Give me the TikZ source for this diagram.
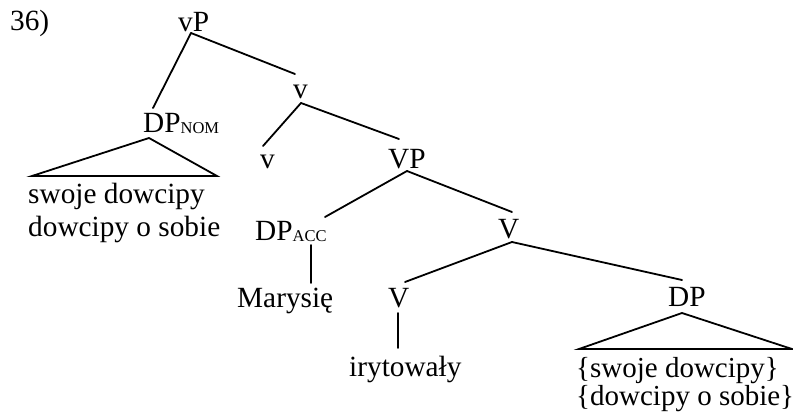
\documentclass[tikz,border=0pt]{standalone}
\usepackage{fontspec}
\setmainfont{Liberation Serif}
\newcommand\subsc[1]{{\fontsize{16.5}{17}\selectfont\raisebox{-1.5pt}{#1}}}
\tikzset{
  lab/.style={inner sep=0pt, anchor=base west, font=\fontsize{29.3}{30}\selectfont},
  branch/.style={line width=1.8pt, line cap=round},
}
\begin{document}
\begin{tikzpicture}[x=1pt,y=-1pt]
\useasboundingbox (0,0) rectangle (793,418);
% labels
\node[lab] (ex)  at (10,30)   {36)};
\node[lab] (vP)  at (178,31)  {vP};
\node[lab] (v1)  at (293,98)  {v};
\node[lab] (DPn) at (143,132) {DP\subsc{NOM}};
\node[lab] (v2)  at (260,168) {v};
\node[lab] (VP)  at (388,168) {VP};
\node[lab] (DPa) at (255,240) {DP\subsc{ACC}};
\node[lab] (V1)  at (498,238) {V};
\node[lab] (Mar) at (237,307) {Marysię};
\node[lab] (V2)  at (388,307) {V};
\node[lab] (DP)  at (668,306) {DP};
\node[lab] (iry) at (349,376) {irytowały};
\node[lab] (s1)  at (28,203)  {swoje dowcipy};
\node[lab] (s2)  at (28,236)  {dowcipy o sobie};
\node[lab, font=\fontsize{29}{30}\selectfont] (r1) at (576,377) {\{swoje dowcipy\}};
\node[lab, font=\fontsize{29}{30}\selectfont] (r2) at (576,405) {\{dowcipy o sobie\}};
% connector ends
\coordinate (vP-b)  at (191,33);
\coordinate (DPn-t) at (153,108);
\coordinate (v1-t)  at (295,74);
\coordinate (v1-b)  at (301,103);
\coordinate (v2-t)  at (263,146);
\coordinate (VP-t)  at (399,139);
\coordinate (VP-b)  at (407,171);
\coordinate (DPa-t) at (325,217);
\coordinate (DPa-b) at (311,245);
\coordinate (Mar-t) at (311,283);
\coordinate (V1-t)  at (512,212);
\coordinate (V1-b)  at (512,242);
\coordinate (V2-t)  at (405,282);
\coordinate (V2-b)  at (398,313);
\coordinate (iry-t) at (398,348);
\coordinate (DP-t)  at (682,280);
\coordinate (DPn-b) at (149,138);
\coordinate (tl1)   at (32,176);
\coordinate (tl2)   at (217,176);
\coordinate (DP-b)  at (682,313);
\coordinate (tr1)   at (579,349);
\coordinate (tr2)   at (792,349);
% branches
\draw[branch] (vP-b) -- (DPn-t);
\draw[branch] (vP-b) -- (v1-t);
\draw[branch] (v1-b) -- (v2-t);
\draw[branch] (v1-b) -- (VP-t);
\draw[branch] (VP-b) -- (DPa-t);
\draw[branch] (VP-b) -- (V1-t);
\draw[branch] (DPa-b) -- (Mar-t);
\draw[branch] (V1-b) -- (V2-t);
\draw[branch] (V1-b) -- (DP-t);
\draw[branch] (V2-b) -- (iry-t);
\draw[branch, line join=miter, line cap=butt] (DPn-b) -- (tl1) -- (tl2) -- cycle;
\draw[branch, line join=miter, line cap=butt] (DP-b) -- (tr1) -- (tr2) -- cycle;
\end{tikzpicture}
\end{document}
